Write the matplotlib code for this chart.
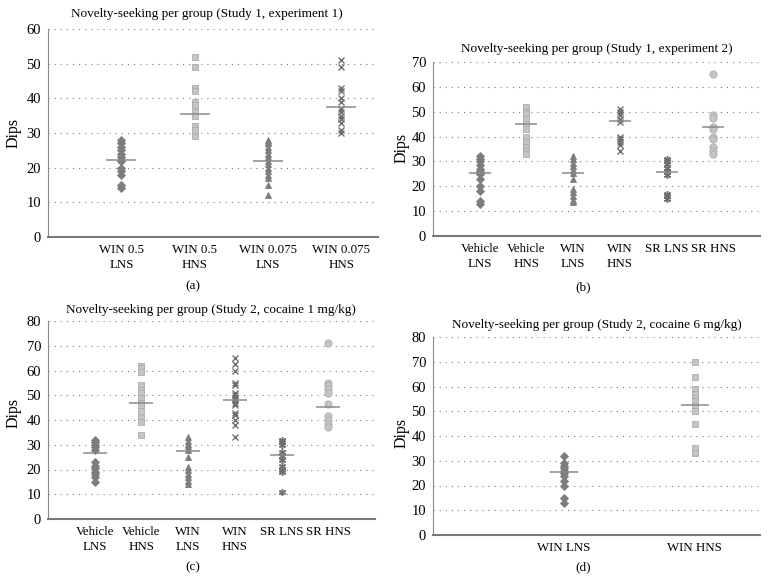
import matplotlib.pyplot as plt

plt.rcParams['font.family'] = 'Liberation Serif'

# (a) Study 1, experiment 1
a_groups = ['WIN 0.5\nLNS', 'WIN 0.5\nHNS', 'WIN 0.075\nLNS', 'WIN 0.075\nHNS']
a_vals = [
    [28, 27, 26, 25, 24, 23, 22, 22, 20, 19, 18, 15, 14],
    [52, 49, 43, 42, 39, 38, 36, 35, 32, 31, 29],
    [28, 27.5, 27, 26, 25, 24, 23, 22, 21, 20, 19, 18, 17, 15, 12],
    [51, 49, 43, 42, 40, 39, 37, 36, 35, 34, 33, 31, 30],
]
a_means = [22.2, 35.5, 22.0, 37.5]

# (b) Study 1, experiment 2
b_groups = ['Vehicle\nLNS', 'Vehicle\nHNS', 'WIN\nLNS', 'WIN\nHNS', 'SR LNS', 'SR HNS']
b_vals = [
    [32, 31, 30, 28.5, 27, 26, 25.5, 25, 23, 20, 18, 14, 13],
    [52, 50, 49, 47, 45, 43, 40, 38, 36, 34, 33],
    [32, 31, 29.5, 28, 26.5, 25.5, 23, 19, 17.5, 16, 14.5, 13.5],
    [51, 50, 48.5, 47, 46, 40, 39, 38, 36.5, 34],
    [31, 30, 29, 27.5, 26, 24.5, 17, 16, 15],
    [65, 48.5, 47.5, 44, 43, 40, 39, 36, 34, 33],
]
b_means = [25.5, 45.2, 25.5, 46.3, 25.8, 43.9]

# (c) Study 2, cocaine 1 mg/kg
c_groups = ['Vehicle\nLNS', 'Vehicle\nHNS', 'WIN\nLNS', 'WIN\nHNS', 'SR LNS', 'SR HNS']
c_vals = [
    [32, 31, 30, 29, 28, 23, 21.5, 20.5, 19, 18, 17, 15],
    [62, 61, 59.5, 54, 52, 51, 49, 47, 46, 43.5, 41, 39, 34],
    [33, 31.5, 30.5, 29.5, 28, 25, 21, 20, 18, 17, 15.5, 14],
    [65, 62.5, 60, 55, 54, 51, 50, 49, 48, 47, 46, 43, 42, 40, 38, 33],
    [32, 31, 30, 27, 25.5, 24, 21.5, 20, 19, 11],
    [71, 55, 54, 52.5, 51, 46.5, 41.5, 40, 38.5, 37],
]
c_means = [26.5, 46.7, 27.4, 48.0, 25.7, 45.1]

# (d) Study 2, cocaine 6 mg/kg
d_groups = ['WIN LNS', 'WIN HNS']
d_vals = [
    [32, 29, 28, 27, 26, 25, 24, 22, 20, 15, 13],
    [70, 64, 59, 57, 55.5, 54, 52, 50, 45, 35, 33],
]
d_means = [25.4, 52.4]

DARK = '#7d7d7d'
LIGHT = '#c4c4c4'
marker_styles = {
    'diamond': dict(marker='D', ms=4.2, mfc=DARK, mec=DARK, mew=0.6),
    'square': dict(marker='s', ms=4.8, mfc=LIGHT, mec='#adadad', mew=0.6),
    'triangle': dict(marker='^', ms=5, mfc=DARK, mec=DARK, mew=0.6),
    'x': dict(marker='x', ms=4.5, mec='#6e6e6e', mew=1.0),
    'asterisk': dict(marker=(6, 2, 0), ms=5, mec='#6e6e6e', mew=1.0),
    'circle': dict(marker='o', ms=5.2, mfc=LIGHT, mec='#adadad', mew=0.6),
}


def draw_panel(rect, groups, vals, means, kinds, ymax, xmax, mean_ms,
               title, title_xy, ylab_xy, tag, tag_xy):
    ax = fig.add_axes(rect)
    pos = range(1, len(groups) + 1)
    for p, v, m, k in zip(pos, vals, means, kinds):
        ax.plot([p] * len(v), v, linestyle='none', zorder=3, **marker_styles[k])
        ax.plot([p], [m], marker='_', ms=mean_ms, mew=1.1, color='#8a8a8a', zorder=4)
    ax.set_xlim(0, xmax)
    ax.set_ylim(0, ymax)
    ax.set_yticks(range(0, ymax + 1, 10))
    ax.set_xticks(list(pos))
    ax.set_xticklabels(groups, linespacing=1.3)
    ax.yaxis.grid(True, linestyle=(0, (1, 4.5)), color='#7a7a7a', lw=0.8)
    ax.set_axisbelow(True)
    ax.tick_params(axis='y', length=0, labelsize=10.5, pad=5)
    ax.tick_params(axis='x', length=0, labelsize=9.3, pad=5)
    for s in ['top', 'right']:
        ax.spines[s].set_visible(False)
    ax.spines['left'].set_color('#8a8a8a')
    ax.spines['bottom'].set_color('#7a7a7a')
    ax.spines['bottom'].set_linewidth(1.5)
    fig.text(title_xy[0] / 770, 1 - title_xy[1] / 583, title,
             ha='center', va='center', fontsize=9.5)
    fig.text(ylab_xy[0] / 770, 1 - ylab_xy[1] / 583, 'Dips',
             ha='center', va='center', rotation=90, fontsize=11.5)
    fig.text(tag_xy[0] / 770, 1 - tag_xy[1] / 583, tag,
             ha='center', va='center', fontsize=9.5)
    return ax


fig = plt.figure(figsize=(7.7, 5.83), dpi=100)

def rect(l, r, t, b):
    return [l / 770, 1 - b / 583, (r - l) / 770, (b - t) / 583]

six = ['diamond', 'square', 'triangle', 'x', 'asterisk', 'circle']

draw_panel(rect(48, 378, 29, 237), a_groups, a_vals, a_means,
           ['diamond', 'square', 'triangle', 'x'], 60, 4.5, 21,
           'Novelty-seeking per group (Study 1, experiment 1)', (207, 14),
           (14, 133), '(a)', (193, 286))
draw_panel(rect(433, 760, 62, 236), b_groups, b_vals, b_means,
           six, 70, 7, 16,
           'Novelty-seeking per group (Study 1, experiment 2)', (597, 49),
           (402, 148), '(b)', (583, 287))
draw_panel(rect(48, 375, 321, 519), c_groups, c_vals, c_means,
           six, 80, 7, 17,
           'Novelty-seeking per group (Study 2, cocaine 1 mg/kg)', (211, 310),
           (14, 413), '(c)', (193, 567))
draw_panel(rect(433, 760, 337, 535), d_groups, d_vals, d_means,
           ['diamond', 'square'], 80, 2.5, 20,
           'Novelty-seeking per group (Study 2, cocaine 6 mg/kg)', (597, 325),
           (402, 433), '(d)', (583, 567))

fig.savefig('out.png', dpi=100)
